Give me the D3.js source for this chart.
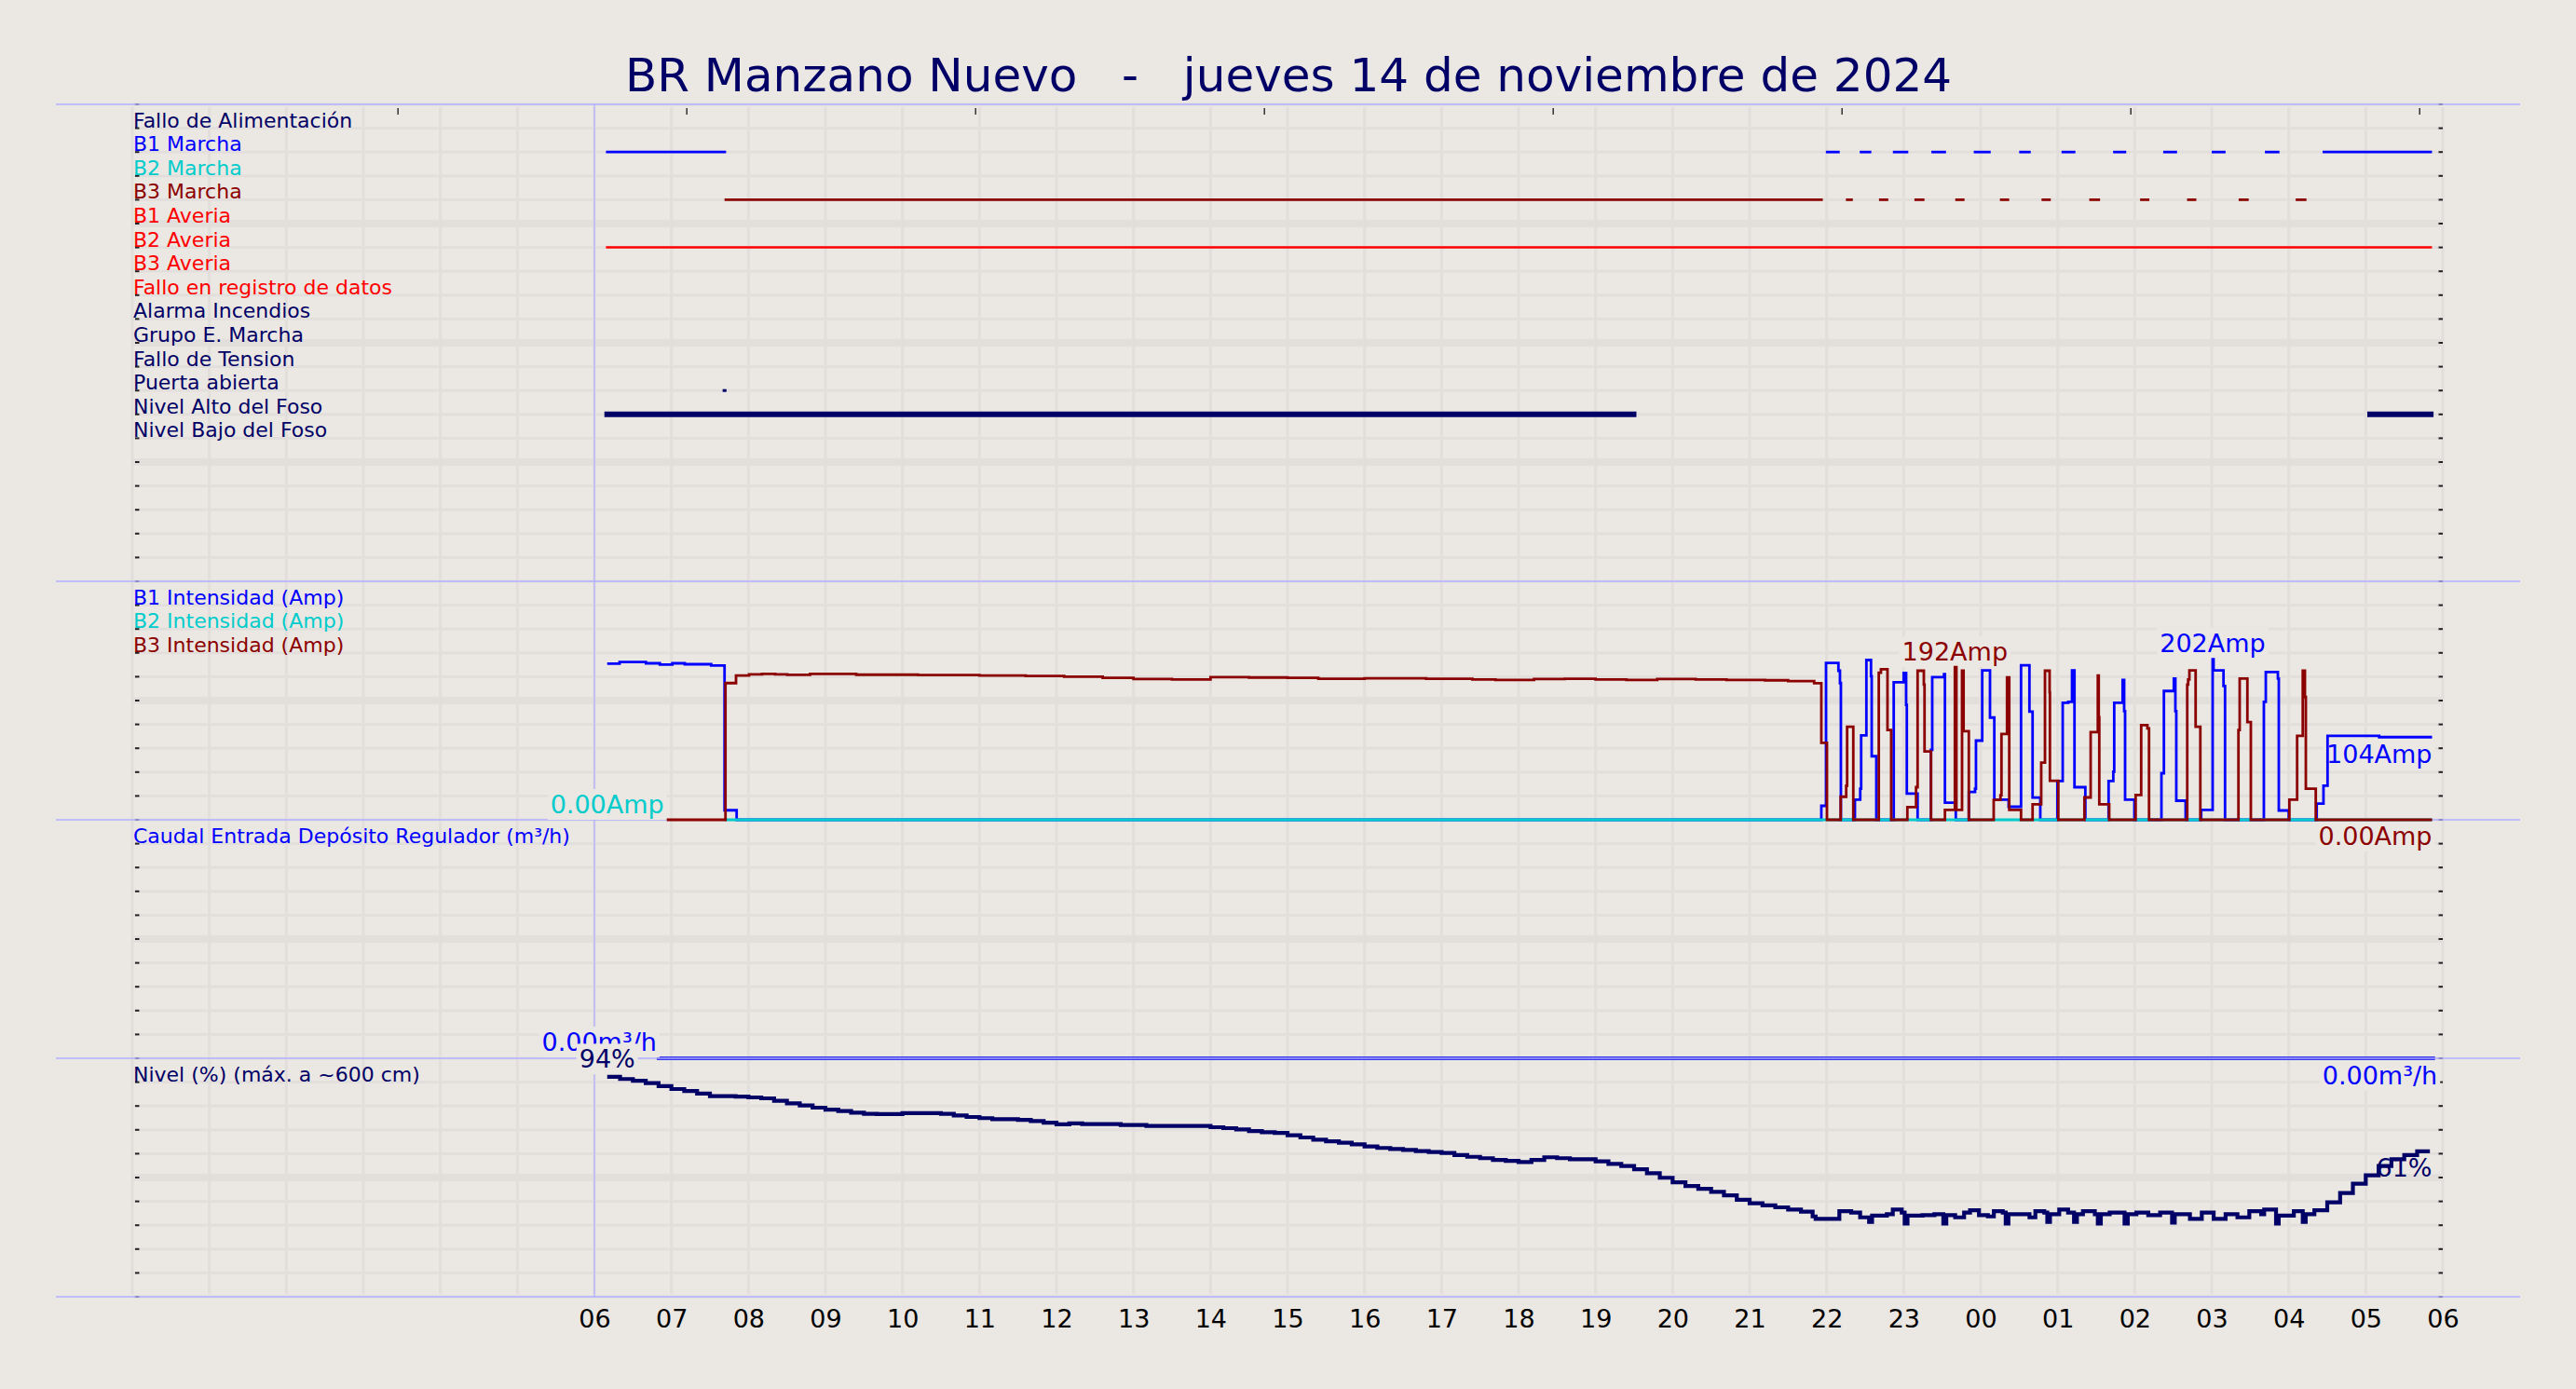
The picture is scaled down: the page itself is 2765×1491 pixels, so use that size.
<!DOCTYPE html>
<html><head><meta charset="utf-8">
<script src="https://cdn.jsdelivr.net/npm/d3@7"></script>
<style>
html,body{margin:0;padding:0;background:#ebe7e2;}
svg{display:block;}
text{font-family:"DejaVu Sans",sans-serif;}
</style></head>
<body><svg id="c" width="2765" height="1491"></svg>
<script>
// ---------------- DATA ----------------
const title = "BR Manzano Nuevo   -   jueves 14 de noviembre de 2024";
const tickHours = [6,7,8,9,10,11,12,13,14,15,16,17,18,19,20,21,22,23,24,25,26,27,28,29,30];
const tickLabels = ["06","07","08","09","10","11","12","13","14","15","16","17","18","19","20","21","22","23","00","01","02","03","04","05","06"];
const gridHours = [0,1,2,3,4,5,6,7,8,9,10,11,12,13,14,15,16,17,18,19,20,21,22,23,24,25,26,27,28,29,30];
const topTickHours = [3.45, 7.2, 10.95, 14.7, 18.45, 22.2, 25.95, 29.7];

const signalNames = ["Fallo de Alimentación","B1 Marcha","B2 Marcha","B3 Marcha","B1 Averia","B2 Averia","B3 Averia","Fallo en registro de datos","Alarma Incendios","Grupo E. Marcha","Fallo de Tension","Puerta abierta","Nivel Alto del Foso","Nivel Bajo del Foso"];
const signalColors = ["#000066","#0000ff","#00cccc","#8b0000","#ff0000","#ff0000","#ff0000","#ff0000","#000066","#000066","#000066","#000066","#000066","#000066"];

// digital signals: [start hour, end hour] (hours from 00:00 of 14 Nov)
const b1Marcha = [[6.15,7.71],[21.99,22.17],[22.43,22.58],[22.86,23.06],[23.36,23.55],[23.91,24.13],[24.50,24.65],[25.05,25.23],[25.72,25.89],[26.37,26.55],[27.00,27.18],[27.69,27.88],[28.44,29.86]];
const b3Marcha = [[7.69,21.95],[22.25,22.34],[22.68,22.80],[23.14,23.27],[23.67,23.79],[24.25,24.37],[24.79,24.91],[25.41,25.55],[26.07,26.19],[26.68,26.80],[27.35,27.48],[28.09,28.23]];
const b2Averia = [[6.15,29.86]];
const puertaAbierta = [[7.665,7.715]];
const nivelAlto = [[6.13,19.53],[29.02,29.88]];

// intensities [hour, Amp]
const b1Amp = [
[6.166,196.5],[6.327,198.4],[6.669,196.9],[6.850,195.3],[7.012,196.9],[7.173,195.7],[7.516,194.2],[7.690,12],[7.847,0],
[21.931,17.6],[21.992,197.3],[22.153,187.5],[22.173,172],[22.185,0],
[22.367,25.4],[22.436,39],[22.448,106.3],[22.516,201],[22.576,180.5],[22.585,80],[22.645,0],
[22.871,173],[23.0,184.8],[23.032,144.6],[23.041,33],[23.181,0],
[23.355,88],[23.371,179.4],[23.524,183.3],[23.536,21.5],[23.677,0],
[23.846,35],[23.927,39],[23.939,99.6],[24.020,188],[24.121,128.6],[24.177,25.4],[24.363,16.4],[24.524,194.5],[24.633,136],[24.674,28],[24.774,0],
[24.996,48.8],[25.065,147.3],[25.137,148.5],[25.186,188],[25.218,41],[25.359,0],
[25.661,48.8],[25.722,60.5],[25.734,147.3],[25.843,175.8],[25.863,136.7],[25.875,25.4],[25.996,0],
[26.347,58.6],[26.379,162],[26.508,177.7],[26.528,136.7],[26.540,24],[26.661,0],
[26.863,12.5],[27.012,202],[27.024,188],[27.153,168.4],[27.173,0],
[27.677,148.5],[27.702,186],[27.859,177.7],[27.871,11.7],[28.0,0],
[28.363,20.3],[28.451,43],[28.504,105.5],[29.174,104],[29.861,104]
];
const b2Amp = [[7.69,0],[29.861,0]];
const b3Amp = [
[6.940,0],[7.702,172],[7.839,181.6],[8.008,183],[8.177,183.6],[8.347,183],[8.504,182.4],
[8.8,183.5],[9.4,182.5],[10.2,182],[11.0,181.5],[11.6,181],[12.1,180],[12.6,178.5],[13.0,177],[13.5,176.5],[14.0,179.5],[14.5,179],[15.0,178.5],[15.4,177.5],[16.0,178],[16.8,177.5],[17.4,176.5],[17.7,176],[18.2,177],[18.6,177.5],[19.0,176.5],[19.4,176],[19.8,177],[20.3,176.5],[20.7,176],[21.2,175.5],[21.5,174.5],[21.838,171.9],
[21.931,96.9],[22.004,0],
[22.182,29],[22.254,43],[22.266,117],[22.346,0],
[22.677,185],[22.705,189.5],[22.790,113],[22.838,0],
[23.048,16],[23.161,41],[23.181,187.5],[23.262,170],[23.271,86],[23.355,0],
[23.536,12.5],[23.665,192],[23.685,12.5],[23.758,187.5],[23.778,111.5],[23.846,0],
[24.169,25],[24.257,31],[24.270,108],[24.342,179],[24.371,12.5],[24.524,0],
[24.674,19.5],[24.786,72],[24.835,187.5],[24.895,160],[24.899,49],[25.008,0],
[25.347,28.1],[25.428,110.2],[25.521,181.6],[25.533,129],[25.540,19.5],[25.669,0],
[26.012,31.2],[26.084,119],[26.165,115],[26.186,0],
[26.682,170],[26.694,176.5],[26.710,188],[26.791,117],[26.852,0],
[27.347,113],[27.363,177.7],[27.463,123],[27.508,0],
[28.008,25.4],[28.109,105.5],[28.182,187.5],[28.210,154.4],[28.222,39],[28.351,0],
[29.861,0]
];
const caudal = [[6.81,0],[29.9,0]];

// nivel (%) sampled every 10 minutes from 06:10 until 21:40
const nivelStartHour = 6.1667, nivelStepHour = 1/6;
const nivelFirst = [92.2,91.3,90.6,89.6,88.3,87.1,86.3,85.2,84.1,84.1,
83.9,83.6,83.2,82.2,81.1,80.2,79.3,78.5,77.9,77.2,
76.7,76.6,76.6,77.0,77.0,77.0,76.7,76.0,75.4,74.9,
74.5,74.5,74.2,73.7,73.0,72.3,72.7,72.4,72.4,72.4,
72.0,72.0,71.6,71.6,71.6,71.6,71.6,71.1,70.7,70.2,
69.5,69.0,68.7,67.7,66.8,65.9,65.2,64.6,63.9,63.0,
62.4,62.0,61.6,61.1,60.7,60.3,59.4,58.7,58.1,57.4,
57.0,56.5,57.4,58.5,58.1,57.7,57.7,56.8,55.7,54.8,
53.5,51.8,49.9,48.0,46.4,45.3,44.0,42.5,40.7,39.2,
38.3,37.5,36.6,35.7];
// nivel night oscillation and morning rise: [hour, %]
const nivelNight = [
[21.818,33.7],[21.857,32.7],[22.165,35.9],[22.319,35.3],[22.435,33.3],[22.551,31.4],[22.59,34.0],[22.782,34.6],[22.859,36.6],[22.975,35.3],[23.013,30.7],[23.05,34.0],[23.245,34.2],[23.399,34.6],[23.515,30.7],[23.554,34.2],[23.669,33.3],[23.785,35.3],[23.862,36.3],[23.978,34.2],[24.094,33.7],[24.171,35.9],[24.287,35.3],[24.325,30.7],[24.36,34.6],[24.634,33.3],[24.710,35.9],[24.826,35.3],[24.865,31.4],[24.90,34.6],[25.020,36.6],[25.135,35.3],[25.212,31.4],[25.25,34.6],[25.328,35.9],[25.482,34.6],[25.521,30.7],[25.56,34.6],[25.675,35.3],[25.868,30.7],[25.91,34.6],[26.022,35.3],[26.176,34.2],[26.330,35.3],[26.485,31.1],[26.52,34.6],[26.601,34.6],[26.717,32.7],[26.871,35.3],[27.025,32.7],[27.180,34.6],[27.334,33.3],[27.488,35.9],[27.642,34.6],[27.681,36.6],[27.835,30.7],[27.87,34.0],[28.066,35.9],[28.182,31.4],[28.22,34.6],
[28.333,36.3],[28.5,39.6],[28.667,43.5],[28.833,47.4],[29.0,50.9],[29.167,54.8],[29.333,57.7],[29.5,59.4],[29.667,61.0],[29.833,61.0]
];

const panelLabels2 = ["B1 Intensidad (Amp)","B2 Intensidad (Amp)","B3 Intensidad (Amp)"];
const panelColors2 = ["#0000ff","#00cccc","#8b0000"];
const panelLabel3 = "Caudal Entrada Depósito Regulador (m³/h)";
const panelLabel4 = "Nivel (%) (máx. a ~600 cm)";

// ---------------- DRAW ----------------
const BG = "#ebe7e2", GRID = "#e2dedc", BORDER = "#b0b0ff", NAVY = "#000066";
const svg = d3.select("#c");
svg.append("rect").attr("width",2765).attr("height",1491).attr("fill",BG);

const x = d3.scaleLinear().domain([0,30]).range([142,2622]);
const yGrid = d3.scaleLinear().domain([0,50]).range([112,1392]);
const ySig = d3.scaleLinear().domain([0,20]).range([112,624]);
const yAmp = d3.scaleLinear().domain([0,300]).range([880,624]);
const yCau = d3.scaleLinear().domain([0,100]).range([1136,880]);
const yNiv = d3.scaleLinear().domain([0,100]).range([1392,1136]);
const gridRows = d3.range(0,51);

// gridlines
const g = svg.append("g");
g.selectAll(".vg").data(gridHours).join("line")
  .attr("x1",d=>x(d)).attr("x2",d=>x(d)).attr("y1",115).attr("y2",1389)
  .attr("stroke",GRID).attr("stroke-width",3);
g.selectAll(".hg").data(gridRows).join("line")
  .attr("x1",x(0)).attr("x2",x(30)).attr("y1",d=>yGrid(d)).attr("y2",d=>yGrid(d))
  .attr("stroke",GRID).attr("stroke-width",d=>([5,10,15,25,35,45].includes(d)?7.5:2.8));

// tick dashes left/right
g.selectAll(".tl").data(gridRows).join("rect")
  .attr("x",145).attr("y",d=>yGrid(d)-1).attr("width",4.5).attr("height",2).attr("fill","#222");
g.selectAll(".tr").data(gridRows).join("rect")
  .attr("x",2617.5).attr("y",d=>yGrid(d)-1).attr("width",4.5).attr("height",2).attr("fill","#222");
// top ticks
g.selectAll(".tt").data(topTickHours).join("line")
  .attr("x1",d=>x(d)).attr("x2",d=>x(d)).attr("y1",116).attr("y2",123)
  .attr("stroke","#333").attr("stroke-width",1.5);

// caudal line (under border)
const stepLine = (ys) => d3.line().x(d=>x(d[0])).y(d=>ys(d[1])).curve(d3.curveStepAfter);
svg.append("path").datum(caudal).attr("d",stepLine(yCau)).attr("fill","none")
  .attr("stroke","#0000ee").attr("stroke-width",3.5);

// panel borders
const borderRows = [0,20,30,40,50];
svg.selectAll(".pb").data(borderRows).join("line")
  .attr("x1",60).attr("x2",2705).attr("y1",d=>yGrid(d)).attr("y2",d=>yGrid(d))
  .attr("stroke",BORDER).attr("stroke-width",1.5);
// vertical line at 06
svg.append("line").attr("x1",x(6)).attr("x2",x(6)).attr("y1",112).attr("y2",1392)
  .attr("stroke",BORDER).attr("stroke-width",1.3);

// title
svg.append("text").attr("x",1383).attr("y",98).attr("text-anchor","middle")
  .attr("font-size",50).attr("fill",NAVY).style("white-space","pre").attr("xml:space","preserve").text(title);

// panel labels
svg.selectAll(".sl").data(signalNames).join("text")
  .attr("x",143).attr("y",(d,i)=>ySig(i+1)-1).attr("font-size",22)
  .attr("fill",(d,i)=>signalColors[i]).text(d=>d);
svg.selectAll(".il").data(panelLabels2).join("text")
  .attr("x",143).attr("y",(d,i)=>yGrid(21+i)-1).attr("font-size",22)
  .attr("fill",(d,i)=>panelColors2[i]).text(d=>d);
svg.append("text").attr("x",143).attr("y",yGrid(31)-1).attr("font-size",22).attr("fill","#0000ff").text(panelLabel3);
svg.append("text").attr("x",143).attr("y",yGrid(41)-1).attr("font-size",22).attr("fill",NAVY).text(panelLabel4);

// bottom axis
const ax = svg.append("g").attr("transform","translate(0,1392)")
  .call(d3.axisBottom(x).tickValues(tickHours).tickFormat((d,i)=>tickLabels[i]).tickSize(0));
ax.select(".domain").remove();
ax.selectAll("text").attr("y",33).attr("dy",0).attr("font-size",27).attr("fill","#000")
  .attr("font-family","DejaVu Sans");

// annotation labels with background box
function boxedLabel(txt, px, py, anchor, color, box){
  const gg = svg.append("g");
  const t = gg.append("text").attr("x",px).attr("y",py).attr("text-anchor",anchor)
    .attr("font-size",27).attr("fill",color).text(txt);
  if (box){
    const b = t.node().getBBox();
    gg.insert("rect","text").attr("x",b.x-3).attr("y",b.y-1).attr("width",b.width+6).attr("height",b.height+2).attr("fill",BG);
  }
}
boxedLabel("0.00Amp", x(b3Amp[0][0])-3, yAmp(0)-7, "end", "#00cccc", true);
boxedLabel("0.00m³/h", x(caudal[0][0]), yCau(0)-8, "end", "#0000ff", true);
boxedLabel("94%", x(nivelStartHour), yNiv(94)-5, "middle", NAVY, true);
boxedLabel("192Amp", x(23.665), yAmp(192)-7, "middle", "#8b0000", true);
boxedLabel("202Amp", x(27.012), yAmp(202)-7.5, "middle", "#0000ff", true);
boxedLabel("104Amp", x(29.861), yAmp(104)+28, "end", "#0000ff", true);
boxedLabel("0.00Amp", x(29.861), yAmp(0)+27, "end", "#8b0000", true);
boxedLabel("0.00m³/h", x(29.93), yCau(0)+28, "end", "#0000ff", true);

// digital signals
function segs(data, row, color, w){
  svg.append("g").selectAll("line").data(data).join("line")
    .attr("x1",d=>x(d[0])).attr("x2",d=>x(d[1])).attr("y1",ySig(row)).attr("y2",ySig(row))
    .attr("stroke",color).attr("stroke-width",w);
}
segs(b1Marcha, 2, "#0000ff", 2.8);
segs(b3Marcha, 4, "#8b0000", 2.8);
segs(b2Averia, 6, "#ff0000", 2.5);
segs(puertaAbierta, 12, NAVY, 3);
segs(nivelAlto, 13, NAVY, 6);

// intensity lines
svg.append("path").datum(b1Amp).attr("d",stepLine(yAmp)).attr("fill","none").attr("stroke","#0000ff").attr("stroke-width",2.8);
svg.append("path").datum(b2Amp).attr("d",stepLine(yAmp)).attr("fill","none").attr("stroke","#00cccc").attr("stroke-width",3);
svg.append("path").datum(b3Amp).attr("d",stepLine(yAmp)).attr("fill","none").attr("stroke","#8b0000").attr("stroke-width",2.8);

// nivel line
const nivelPts = nivelFirst.map((v,i)=>[nivelStartHour + i*nivelStepHour, v]).concat(nivelNight);
svg.append("path").datum(nivelPts).attr("d",stepLine(yNiv)).attr("fill","none").attr("stroke",NAVY).attr("stroke-width",4.2);

// end label for nivel (drawn over)
svg.append("text").attr("x",x(29.861)).attr("y",yNiv(61)+27).attr("text-anchor","end")
  .attr("font-size",27).attr("fill",NAVY).text("61%");
</script>
</body></html>
